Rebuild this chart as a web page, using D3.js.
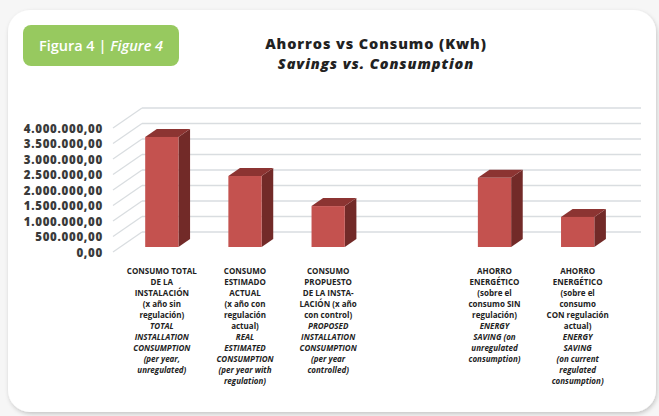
<!DOCTYPE html>
<html><head><meta charset="utf-8">
<script src="https://cdn.jsdelivr.net/npm/d3@7"></script>
<style>
html,body{margin:0;padding:0;background:#f6f6f6;}
svg{display:block;}
</style></head>
<body>
<svg id="chart" width="659" height="416"></svg>
<script>
// ---- data ----
const categories = ["c1","c2","c3","gap","c5","c6"];
const values = [3550000, 2290000, 1320000, null, 2230000, 970000];
const tickValues = [0, 500000, 1000000, 1500000, 2000000, 2500000, 3000000, 3500000, 4000000];
const labelsES = [
  ["CONSUMO TOTAL","DE LA","INSTALACIÓN","(x año sin","regulación)"],
  ["CONSUMO","ESTIMADO","ACTUAL","(x año con","regulación","actual)"],
  ["CONSUMO","PROPUESTO","DE LA INSTA-","LACIÓN (x año","con control)"],
  [],
  ["AHORRO","ENERGÉTICO","(sobre el","consumo SIN","regulación)"],
  ["AHORRO","ENERGÉTICO","(sobre el","consumo","CON regulación","actual)"]
];
const labelsEN = [
  ["TOTAL","INSTALLATION","CONSUMPTION","(per year,","unregulated)"],
  ["REAL","ESTIMATED","CONSUMPTION","(per year with","regulation)"],
  ["PROPOSED","INSTALLATION","CONSUMPTION","(per year","controlled)"],
  [],
  ["ENERGY","SAVING (on","unregulated","consumption)"],
  ["ENERGY","SAVING","(on current","regulated","consumption)"]
];
const titleES = "Ahorros vs Consumo (Kwh)";
const titleEN = "Savings vs. Consumption";
const badgeES = "Figura 4 | ";
const badgeEN = "Figure 4";

// ---- drawing ----
const svg = d3.select("#chart");
const defs = svg.append("defs");
const f = defs.append("filter").attr("id","sh").attr("x","-5%").attr("y","-5%").attr("width","110%").attr("height","112%");
f.append("feDropShadow").attr("dx",1).attr("dy",2).attr("stdDeviation",2).attr("flood-color","#000").attr("flood-opacity",0.2);

// card
svg.append("rect").attr("x",8).attr("y",10).attr("width",648).attr("height",402)
  .attr("rx",22).attr("fill","#fff").attr("filter","url(#sh)");

// badge
svg.append("rect").attr("x",23).attr("y",25).attr("width",156).attr("height",41).attr("rx",8).attr("fill","#97c95f");
const bt = svg.append("text").attr("x",101).attr("y",51).attr("text-anchor","middle")
  .attr("fill","#fff").attr("font-family","'Open Sans',sans-serif").attr("font-size",14.5).attr("font-weight",600);
bt.append("tspan").text(badgeES);
bt.append("tspan").attr("font-style","italic").text(badgeEN);

// title
svg.append("text").attr("x",376).attr("y",49).attr("text-anchor","middle").attr("letter-spacing",0.9)
  .attr("font-family","'Open Sans',sans-serif").attr("font-weight",800).attr("font-size",14.5).attr("fill","#222").text(titleES);
svg.append("text").attr("x",376).attr("y",69).attr("text-anchor","middle").attr("letter-spacing",0.9)
  .attr("font-family","'Open Sans',sans-serif").attr("font-weight",800).attr("font-style","italic").attr("font-size",14.5).attr("fill","#222").text(titleEN);

// 3D geometry
const DX = 29, DY = -20;
const x0 = 113, x1 = 612;
const y = d3.scaleLinear().domain([0, 4000000]).range([252, 128]);
const x = d3.scaleBand().domain(categories).range([x0, x1]).paddingInner(0.6).paddingOuter(0.3);
const fmt = d3.formatLocale({decimal:",", thousands:".", grouping:[3], currency:["","€"]}).format(",.2f");

const grid = svg.append("g").attr("stroke","#d9dde0").attr("stroke-width",1.3).attr("fill","none");
tickValues.forEach(v => {
  grid.append("line").attr("x1",x0).attr("y1",y(v)).attr("x2",x0+DX).attr("y2",y(v)+DY);
  grid.append("line").attr("x1",x0+DX).attr("y1",y(v)+DY).attr("x2",x1+DX).attr("y2",y(v)+DY);
});

// y axis labels
const yAxis = d3.axisLeft(y).tickValues(tickValues).tickFormat(fmt).tickSize(0).tickPadding(0);
const ga = svg.append("g").attr("transform","translate(103,0)").call(yAxis);
ga.select(".domain").remove();
ga.selectAll("text").attr("font-family","'Open Sans',sans-serif").attr("font-weight",800)
  .attr("font-size",11.5).attr("letter-spacing",0.7).attr("fill","#3a3a3a").attr("dy","0.35em");

// bars
const f0 = 0.25, f1 = 0.65;
const bars = svg.append("g");
categories.forEach((c, i) => {
  const v = values[i];
  if (v == null) return;
  const xl = x(c) + f0*DX, xr = xl + x.bandwidth();
  const yb = y(0) + f0*DY, yt = y(v) + f0*DY;
  const ddx = (f1-f0)*DX, ddy = (f1-f0)*DY;
  bars.append("path").attr("d", `M${xr},${yt}L${xr+ddx},${yt+ddy}L${xr+ddx},${yb+ddy}L${xr},${yb}Z`).attr("fill","#722a28");
  bars.append("path").attr("d", `M${xl},${yt}L${xl+ddx},${yt+ddy}L${xr+ddx},${yt+ddy}L${xr},${yt}Z`).attr("fill","#8c3432");
  bars.append("rect").attr("x",xl).attr("y",yt).attr("width",x.bandwidth()).attr("height",yb-yt).attr("fill","#c4524f");
});

// category labels
const lh = 11;
categories.forEach((c, i) => {
  const cx = x(c) + f0*DX + x.bandwidth()/2;
  const t = svg.append("text").attr("text-anchor","middle").attr("font-family","'Open Sans',sans-serif")
    .attr("font-weight",700).attr("font-size",8).attr("fill","#222");
  let k = 0;
  labelsES[i].forEach(s => { t.append("tspan").attr("x",cx).attr("y",274 + lh*k++).text(s); });
  labelsEN[i].forEach(s => { t.append("tspan").attr("x",cx).attr("y",274 + lh*k++).attr("font-style","italic").text(s); });
});
</script>
</body></html>
